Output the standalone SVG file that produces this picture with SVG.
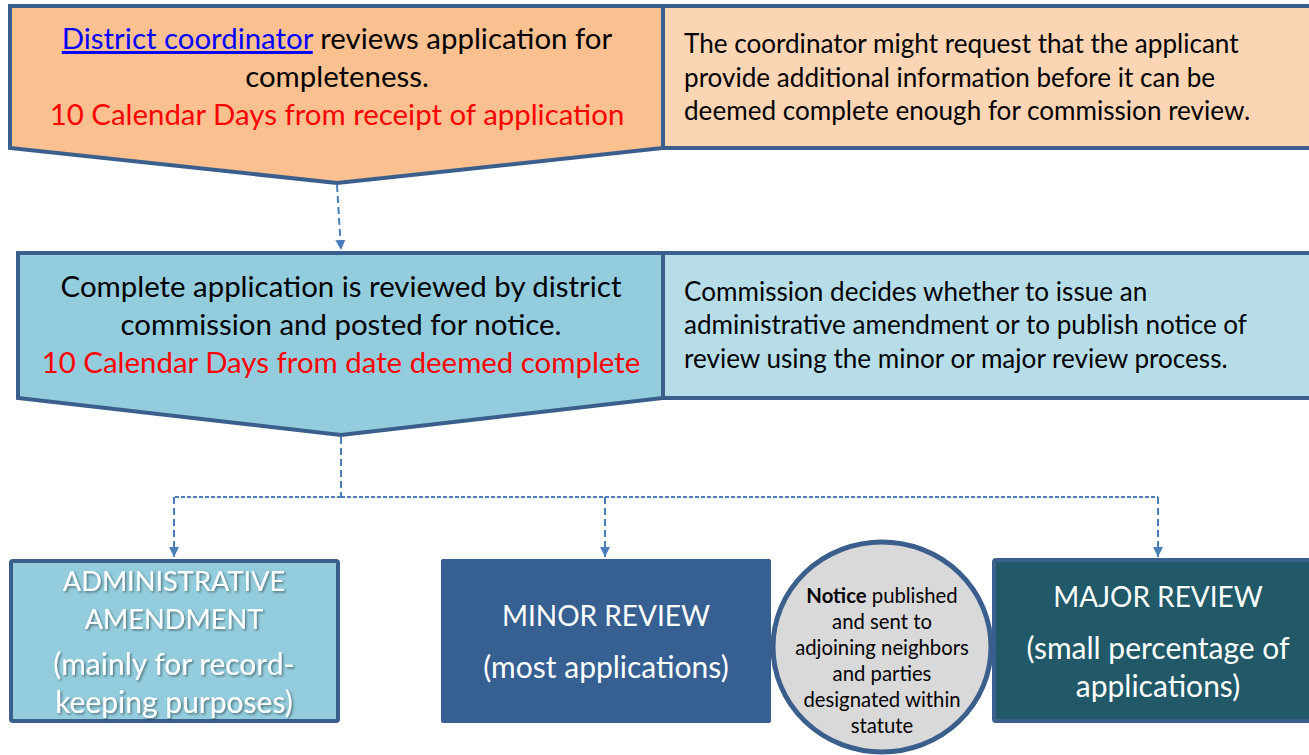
<svg xmlns="http://www.w3.org/2000/svg" width="1309" height="755" viewBox="0 0 1309 755">
<defs>
<style>
text{font-family:Lato,"Noto Sans",sans-serif;}
.b{stroke:#3B5F8C;stroke-width:4;stroke-linejoin:miter;}
.t{font-size:29.4px;fill:#000;text-anchor:middle;}
.r{font-size:29.4px;fill:#FF0000;text-anchor:middle;}
.s{font-size:26.1px;fill:#000;}
.w{fill:#fff;text-anchor:middle;}
.c{stroke:#4A7EBB;stroke-width:2;fill:none;stroke-dasharray:7,4;}
.d{stroke:#4A7EBB;stroke-width:2;fill:none;stroke-dasharray:4,2;}
</style>
<marker id="ah" viewBox="0 0 10 10" refX="10" refY="5" markerWidth="5" markerHeight="5" orient="auto" markerUnits="strokeWidth">
<path d="M0,0 L10,5 L0,10 z" fill="#4A7EBB"/>
</marker>
<filter id="sh" x="-10%" y="-10%" width="130%" height="140%">
<feDropShadow dx="1.5" dy="1.5" stdDeviation="1" flood-color="#000" flood-opacity="0.45"/>
</filter>
</defs>

<g id="note1">
<rect x="663" y="6" width="660" height="142" fill="#FCD5B5" class="b"/>
<text class="s" x="684" y="53">The coordinator might request that the applicant</text>
<text class="s" x="684" y="87">provide additional information before it can be</text>
<text class="s" x="684" y="120">deemed complete enough for commission review.</text>
</g>

<g id="step1">
<polygon points="10,6 663,6 663,148 337,183 10,148" fill="#FAC090" class="b"/>
<text class="t" x="337" y="49"><tspan fill="#0000FF" text-decoration="underline">District coordinator</tspan> reviews application for</text>
<text class="t" x="337" y="87">completeness.</text>
<text class="r" x="337" y="125">10 Calendar Days from receipt of application</text>
</g>

<g id="note2">
<rect x="663" y="253" width="660" height="145" fill="#B7DEE8" class="b"/>
<text class="s" x="684" y="301">Commission decides whether to issue an</text>
<text class="s" x="684" y="334">administrative amendment or to publish notice of</text>
<text class="s" x="684" y="368">review using the minor or major review process.</text>
</g>

<g id="step2">
<polygon points="18,253 663,253 663,398 341,435 18,398" fill="#93CDDD" class="b"/>
<text class="t" x="341" y="297">Complete application is reviewed by district</text>
<text class="t" x="341" y="335">commission and posted for notice.</text>
<text class="r" x="341" y="373">10 Calendar Days from date deemed complete</text>
</g>

<g id="connectors">
<line class="c" x1="337" y1="185" x2="341" y2="250" marker-end="url(#ah)"/>
<line class="c" x1="341" y1="437" x2="341" y2="497"/>
<polyline class="d" points="341,497 174,497"/>
<polyline class="d" points="341,497 1158,497"/>
<line class="c" x1="174" y1="497" x2="174" y2="557" marker-end="url(#ah)"/>
<line class="c" x1="605" y1="497" x2="605" y2="557" marker-end="url(#ah)"/>
<line class="c" x1="1158" y1="497" x2="1158" y2="557" marker-end="url(#ah)"/>
</g>

<g id="admin">
<rect x="11" y="561" width="327" height="160" rx="2" fill="#93CDDD" class="b"/>
<g filter="url(#sh)">
<text class="w" x="174" y="591" font-size="27.2">ADMINISTRATIVE</text>
<text class="w" x="174" y="629" font-size="27.2">AMENDMENT</text>
<text class="w" x="174" y="675" font-size="30">(mainly for record-</text>
<text class="w" x="174" y="713" font-size="30">keeping purposes)</text>
</g>
</g>

<g id="minor">
<rect x="441" y="559" width="330" height="164" rx="2" fill="#376092"/>
<text class="w" x="606" y="626" font-size="28">MINOR REVIEW</text>
<text class="w" x="606" y="678" font-size="30">(most applications)</text>
</g>

<g id="major">
<rect x="994" y="560" width="330" height="161" rx="2" fill="#215968" class="b"/>
<text class="w" x="1158" y="607" font-size="28">MAJOR REVIEW</text>
<text class="w" x="1158" y="659" font-size="30">(small percentage of</text>
<text class="w" x="1158" y="697" font-size="30">applications)</text>
</g>

<g id="notice">
<ellipse cx="882" cy="647" rx="109" ry="105" fill="#D9D9D9" stroke="#3B5F8C" stroke-width="5"/>
<g font-size="20.3" text-anchor="middle" fill="#000">
<text x="882" y="603"><tspan font-weight="bold">Notice</tspan> published</text>
<text x="882" y="629">and sent to</text>
<text x="882" y="655">adjoining neighbors</text>
<text x="882" y="681">and parties</text>
<text x="882" y="707">designated within</text>
<text x="882" y="733">statute</text>
</g>
</g>
</svg>
